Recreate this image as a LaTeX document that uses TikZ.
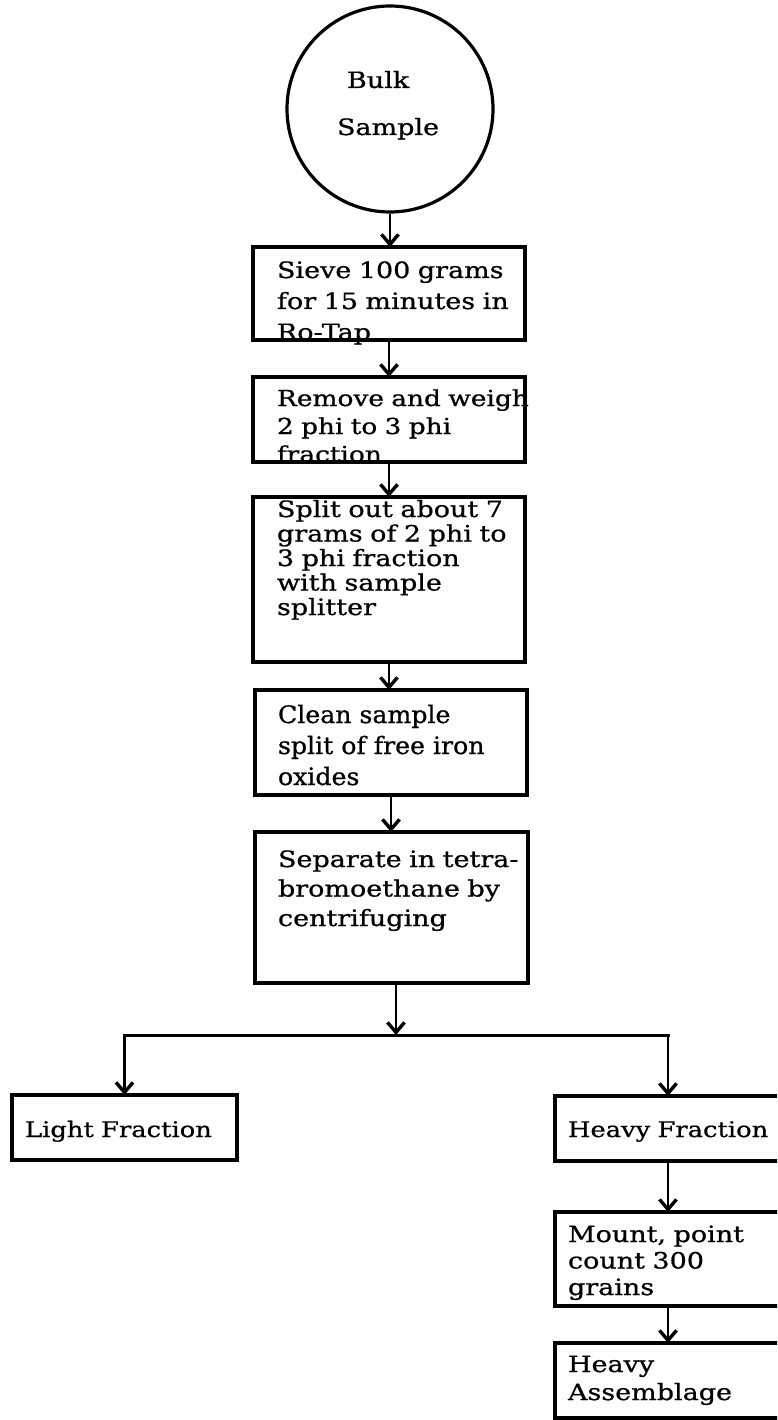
\documentclass[tikz,border=0pt]{standalone}
\usepackage{fontspec}
\setmainfont{DejaVu Serif}[FakeStretch=1.2,FakeBold=0.8]
\newfontfamily\cleanfont{DejaVu Serif}[FakeStretch=1.05,FakeBold=0.8]
\usetikzlibrary{arrows.meta}
\begin{document}
\begin{tikzpicture}[x=1pt,y=-1pt,
  box/.style={draw, line width=3.2pt, rectangle, inner sep=0pt, outer sep=0pt},
  arr/.style={line width=2.8pt, -{Straight Barb[length=10pt,width=17pt,line width=3.4pt]}},
  branch/.style={line width=3pt},
  txt/.style={inner sep=0pt, outer sep=0pt, anchor=base west, align=left, text width=300pt, font=\fontsize{22.5}{#1}\selectfont},
]
\useasboundingbox (0,0) rectangle (777,1420);
\clip (0,0) rectangle (777,1420);

% start circle
\node[draw, circle, line width=3.2pt, minimum size=206pt, inner sep=0pt] (bulk) at (390,109) {};
\node[txt=47] (tbulk) at (337,88) {\hspace*{10pt}Bulk\\Sample};

% process boxes
\node[box, minimum width=272pt, minimum height=93pt] (b1) at (389,293.5) {};
\node[txt=31] (t1) at (277,278) {Sieve 100 grams\\for 15 minutes in\\Ro-Tap};

\node[box, minimum width=272pt, minimum height=85pt] (b2) at (389,419.5) {};
\node[txt=28, font=\fontsize{22}{28}\selectfont] (t2) at (277,406) {Remove and weigh\\2 phi to 3 phi\\fraction};

\node[box, minimum width=272pt, minimum height=165pt] (b3) at (389,579.5) {};
\node[txt=24.5] (t3) at (277,517) {Split out about 7\\grams of 2 phi to\\3 phi fraction\\with sample\\splitter};

\node[box, minimum width=272pt, minimum height=105pt] (b4) at (391,742.5) {};
\node[txt=31, font=\cleanfont\fontsize{24}{31}\selectfont] (t4) at (278,723) {Clean sample\\split of free iron\\oxides};

\node[box, minimum width=273pt, minimum height=151pt] (b5) at (391.5,907.5) {};
\node[txt=29.5] (t5) at (278,867) {Separate in tetra-\\bromoethane by\\centrifuging};

% branch boxes
\node[box, minimum width=225pt, minimum height=65pt] (lf) at (124.5,1127.5) {};
\node[txt=28, font=\fontsize{21.5}{28}\selectfont] (tlf) at (25,1137) {Light Fraction};

\node[box, minimum width=226pt, minimum height=65pt] (hf) at (668,1128.5) {};
\node[txt=28, font=\fontsize{21.5}{28}\selectfont] (thf) at (568,1137) {Heavy Fraction};

\node[box, minimum width=226pt, minimum height=94pt] (mc) at (668,1259) {};
\node[txt=26.5] (tmc) at (568,1242) {Mount, point\\count 300\\grains};

\node[box, minimum width=226pt, minimum height=75pt] (ha) at (668,1380.5) {};
\node[txt=28] (tha) at (568,1372) {Heavy\\Assemblage};

% connectors
\draw[arr] (bulk.south) -- (bulk.south |- b1.north);
\draw[arr] (b1.south) -- (b1.south |- b2.north);
\draw[arr] (b2.south) -- (b2.south |- b3.north);
\draw[arr] (b3.south) -- (b3.south |- b4.north);
\draw[arr] (b4.south) -- (b4.south |- b5.north);
\coordinate (j) at (396,1035);
\draw[arr] (b5.south -| j) -- (j);
\draw[branch, line cap=rect] (lf.north |- j) -- (hf.north |- j);
\draw[arr] (lf.north |- j) -- (lf.north);
\draw[arr] (hf.north |- j) -- (hf.north);
\draw[arr] (hf.south) -- (mc.north);
\draw[arr] (mc.south) -- (ha.north);
\end{tikzpicture}
\end{document}
